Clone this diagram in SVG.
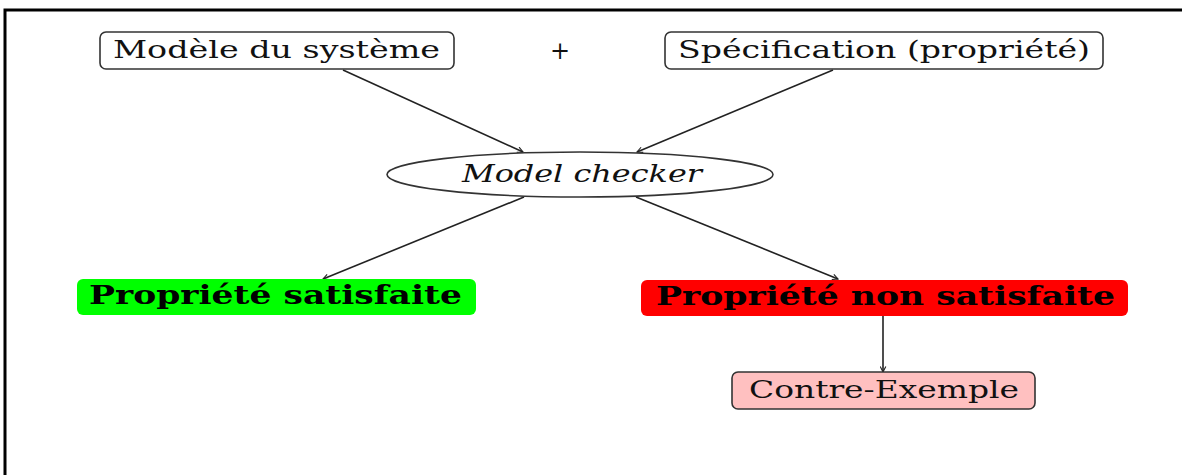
<svg xmlns="http://www.w3.org/2000/svg" width="1182" height="475" viewBox="0 0 1182 475">
  <style>
    .box { fill: #ffffff; stroke: #333333; stroke-width: 1.6; }
    .lbl { font-family: "DejaVu Serif", "Liberation Serif", serif; font-size: 24px; fill: #111111; }
    .big { font-family: "DejaVu Serif", "Liberation Serif", serif; font-size: 26px; font-weight: bold; fill: #000000; }
    .edge { stroke: #222222; stroke-width: 1.6; fill: none; marker-end: url(#head); }
  </style>
  <defs>
    <marker id="head" viewBox="0 0 10 10" refX="9" refY="5" markerWidth="7" markerHeight="7" markerUnits="userSpaceOnUse" orient="auto">
      <path d="M1,1 L9,5 L1,9" fill="none" stroke="#222222" stroke-width="1.6"/>
    </marker>
  </defs>
  <rect width="1182" height="475" fill="#ffffff"/>
  <!-- outer frame: only the top and left sides fall inside the canvas -->
  <path d="M5,480 L5,10 L1190,10" fill="none" stroke="#000000" stroke-width="3"/>

  <g id="connectors">
    <line class="edge" x1="343" y1="70" x2="523" y2="152"/>
    <line class="edge" x1="833" y1="70" x2="637" y2="152"/>
    <line class="edge" x1="524" y1="197" x2="323" y2="279"/>
    <line class="edge" x1="636" y1="197" x2="838" y2="279"/>
    <line class="edge" x1="883" y1="316" x2="883" y2="372"/>
  </g>

  <g id="modele">
    <rect class="box" x="100" y="32" width="354" height="37" rx="6"/>
    <text class="lbl" x="113" y="58" textLength="327" lengthAdjust="spacingAndGlyphs">Modèle du système</text>
  </g>
  <g id="plus">
    <text class="lbl" x="560" y="59" text-anchor="middle">+</text>
  </g>
  <g id="specification">
    <rect class="box" x="665" y="32" width="438" height="37" rx="6"/>
    <text class="lbl" x="678" y="58" textLength="412" lengthAdjust="spacingAndGlyphs">Spécification (propriété)</text>
  </g>
  <g id="checker">
    <ellipse class="box" cx="580" cy="174.5" rx="193" ry="22.5"/>
    <text class="lbl" x="462" y="182" font-style="italic" textLength="240" lengthAdjust="spacingAndGlyphs">Model checker</text>
  </g>
  <g id="satisfaite">
    <rect x="77" y="279" width="399" height="36" rx="6" fill="#00ff00"/>
    <text class="big" x="89" y="304" textLength="373" lengthAdjust="spacingAndGlyphs">Propriété satisfaite</text>
  </g>
  <g id="non-satisfaite">
    <rect x="641" y="280" width="487" height="36" rx="6" fill="#ff0000"/>
    <text class="big" x="656" y="305" textLength="459" lengthAdjust="spacingAndGlyphs">Propriété non satisfaite</text>
  </g>
  <g id="contre-exemple">
    <rect class="box" x="732" y="372" width="303" height="37" rx="6" style="fill:#ffc0c0"/>
    <text class="lbl" x="749" y="398" textLength="270" lengthAdjust="spacingAndGlyphs">Contre-Exemple</text>
  </g>
</svg>
